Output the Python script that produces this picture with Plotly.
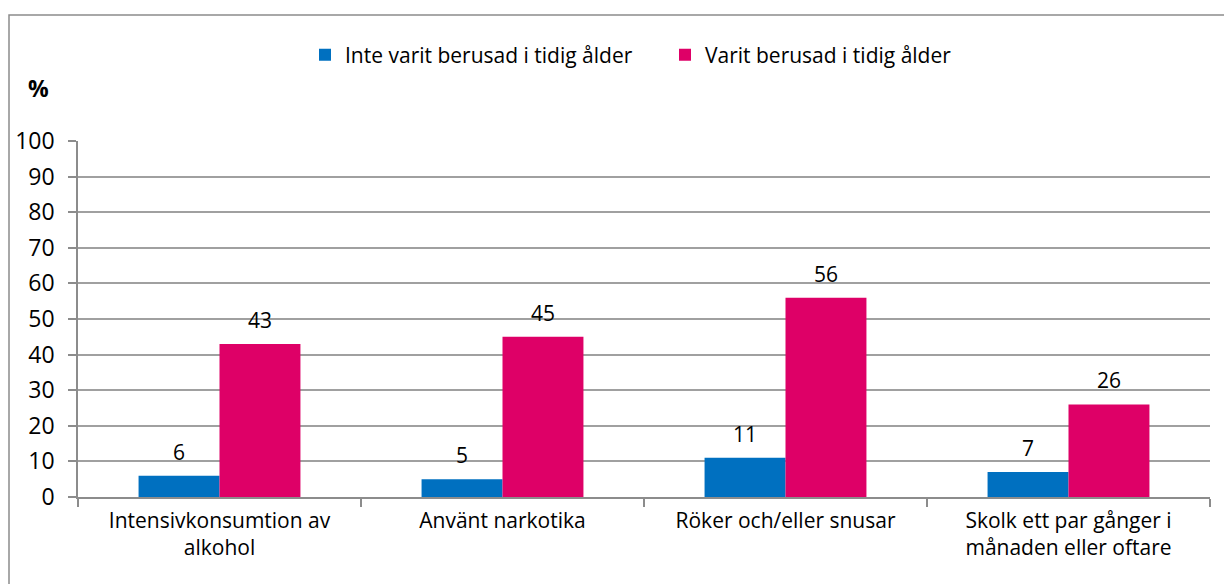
import plotly.graph_objects as go

categories = ["Intensivkonsumtion av<br>alkohol", "Använt narkotika", "Röker och/eller snusar",
              "Skolk ett par gånger i<br>månaden eller oftare"]
series_names = ["Inte varit berusad i tidig ålder", "Varit berusad i tidig ålder"]
not_drunk = [6, 5, 11, 7]
drunk = [43, 45, 56, 26]
colors = ["#0070C0", "#DE0067"]
y_ticks = list(range(0, 101, 10))

# page body has an 8px margin; size the figure so it fills the 1232x584 window
OFF = 8
W, H = 1232 - OFF, 584 - OFF
ML, MR, MT, MB = 78 - OFF, 22, 141 - OFF, 87
pw = W - ML - MR
ph = H - MT - MB
FONT = "Open Sans, Calibri, sans-serif"


def px_x(x):
    return (x - OFF - ML) / pw


def px_y(y):
    return (H - MB - (y - OFF)) / ph


bar_w = 0.286
idx = list(range(len(categories)))

fig = go.Figure()
for k, (name, vals) in enumerate(zip(series_names, [not_drunk, drunk])):
    off = (k - 0.5) * bar_w
    xs = [i + off for i in idx]
    fig.add_trace(go.Bar(x=xs, y=vals, width=bar_w, name=name,
                         marker=dict(color=colors[k], line=dict(width=0))))
    for x, v in zip(xs, vals):
        fig.add_annotation(x=x, y=v, text=str(v), showarrow=False, yanchor="bottom",
                           yshift=8, font=dict(size=21, color="#000000"))

fig.add_shape(type="rect", xref="paper", yref="paper",
              x0=px_x(9), x1=px_x(1240), y0=px_y(600), y1=px_y(15),
              line=dict(color="#8C8C8C", width=1.5), fillcolor="rgba(0,0,0,0)", layer="below")

fig.add_annotation(text="<b>%</b>", xref="paper", yref="paper",
                   x=px_x(38), y=px_y(88), xanchor="center", yanchor="middle",
                   showarrow=False, font=dict(size=23, color="#000000"))

fig.update_layout(
    width=W, height=H,
    margin=dict(l=ML, r=MR, t=MT, b=MB, autoexpand=False),
    paper_bgcolor="white", plot_bgcolor="white",
    font=dict(family=FONT, size=21, color="#000000"),
    showlegend=True,
    legend=dict(orientation="h", x=px_x(665), xanchor="center", y=px_y(55), yanchor="middle",
                font=dict(size=21), bgcolor="rgba(0,0,0,0)", itemwidth=30,
                entrywidth=315, entrywidthmode="pixels", traceorder="normal"),
    barmode="overlay",
)
fig.update_xaxes(range=[-0.5, len(categories) - 0.5], tickvals=idx, ticktext=categories,
                 ticks="", showgrid=False, zeroline=False, showline=True,
                 linecolor="#8C8C8C", linewidth=1.5,
                 minor=dict(tickvals=[i - 0.5 for i in range(len(categories) + 1)],
                            ticks="outside", ticklen=8, tickcolor="#8C8C8C", tickwidth=1.5),
                 tickfont=dict(size=21), ticklabelstandoff=4)
fig.update_yaxes(range=[0, 100], tickvals=y_ticks, ticks="outside", ticklen=8,
                 tickcolor="#8C8C8C", tickwidth=1.5,
                 showgrid=True, gridcolor="#A0A0A0", gridwidth=1.5,
                 showline=True, linecolor="#8C8C8C", linewidth=1.5, zeroline=False,
                 tickfont=dict(size=23), ticklabelstandoff=9)

fig.write_html("out.html")
